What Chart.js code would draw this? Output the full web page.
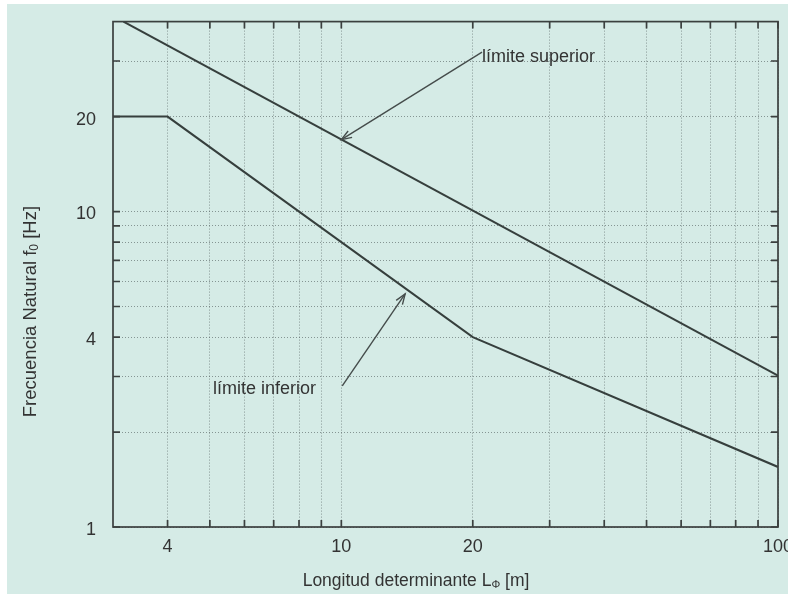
<!DOCTYPE html>
<html><head><meta charset="utf-8">
<script src="https://cdn.jsdelivr.net/npm/chart.js@4.4.0/dist/chart.umd.min.js"></script>
<style>
html,body{margin:0;padding:0;overflow:hidden;background:#fff;width:788px;height:594px;}
#wrap{position:absolute;left:7px;top:4px;width:800px;height:590px;background:#d5ebe6;}
canvas{display:block;}
</style></head><body>
<div id="wrap"><canvas id="c" width="800" height="590"></canvas></div>
<script>
// ---- data ----
const xTicks = [4, 5, 6, 7, 8, 9, 10, 20, 30, 40, 50, 60, 70, 80, 90, 100];
const xTickLabels = [4, 10, 20, 100];
const yTicks = [1, 2, 3, 4, 5, 6, 7, 8, 9, 10, 20, 30];
const yTickLabels = [1, 4, 10, 20];
const upperL = [3.17, 100];
const upperF = [40, 3.02];
const lowerL = [3, 4, 20, 100];
const lowerF = [20, 20, 4, 1.55];
// annotations (data coordinates)
const labelUpper = 'límite superior';
const labelUpperPos = [21.0, 30.8];
const arrowUpper = [[21, 32], [10, 16.9]];
const labelLower = 'límite inferior';
const labelLowerPos = [8.75, 2.74];
const arrowLower = [[10.05, 2.8], [14.0, 5.48]];
const xTitle = ['Longitud determinante L', 'Φ', ' [m]'];
const yTitle = ['Frecuencia Natural f', '0', ' [Hz]'];

const FONT = "'Liberation Sans', Arial, Helvetica, sans-serif";
const INK = '#363f3d';
const TXT = '#333333';

function drawParts(ctx, parts, cx, cy, size) {
  const sizes = [size, Math.round(size * 0.65), size];
  const dys = [0, 4, 0];
  let total = 0;
  const widths = parts.map((p, i) => { ctx.font = sizes[i] + 'px ' + FONT; const w = ctx.measureText(p).width; total += w; return w; });
  let x = cx - total / 2;
  ctx.textBaseline = 'middle';
  ctx.textAlign = 'left';
  parts.forEach((p, i) => { ctx.font = sizes[i] + 'px ' + FONT; ctx.fillText(p, x, cy + dys[i]); x += widths[i]; });
}

function arrow(ctx, x1, y1, x2, y2) {
  ctx.beginPath(); ctx.moveTo(x1, y1); ctx.lineTo(x2, y2); ctx.stroke();
  const ang = Math.atan2(y2 - y1, x2 - x1), L = 11, h = 0.35;
  ctx.beginPath();
  ctx.moveTo(x2 - L * Math.cos(ang - h), y2 - L * Math.sin(ang - h));
  ctx.lineTo(x2, y2);
  ctx.lineTo(x2 - L * Math.cos(ang + h), y2 - L * Math.sin(ang + h));
  ctx.stroke();
}

const framePlugin = {
  id: 'frame',
  afterDatasetsDraw(chart) {
    const { ctx, chartArea: a, scales: { x, y } } = chart;
    ctx.save();
    ctx.strokeStyle = '#3b403f'; ctx.lineWidth = 1.7;
    ctx.strokeRect(a.left, a.top, a.right - a.left, a.bottom - a.top);
    ctx.beginPath();
    const tl = 7;
    xTicks.forEach(v => { const px = x.getPixelForValue(v); ctx.moveTo(px, a.bottom); ctx.lineTo(px, a.bottom - tl); ctx.moveTo(px, a.top); ctx.lineTo(px, a.top + tl); });
    yTicks.forEach(v => { const py = y.getPixelForValue(v); ctx.moveTo(a.left, py); ctx.lineTo(a.left + tl, py); ctx.moveTo(a.right, py); ctx.lineTo(a.right - tl, py); });
    ctx.stroke();
    // annotations
    ctx.strokeStyle = '#454c4b'; ctx.lineWidth = 1.4;
    arrow(ctx, x.getPixelForValue(arrowUpper[0][0]), y.getPixelForValue(arrowUpper[0][1]), x.getPixelForValue(arrowUpper[1][0]), y.getPixelForValue(arrowUpper[1][1]));
    arrow(ctx, x.getPixelForValue(arrowLower[0][0]), y.getPixelForValue(arrowLower[0][1]), x.getPixelForValue(arrowLower[1][0]), y.getPixelForValue(arrowLower[1][1]));
    ctx.fillStyle = TXT; ctx.font = '18px ' + FONT; ctx.textBaseline = 'middle';
    ctx.textAlign = 'left';
    ctx.fillText(labelUpper, x.getPixelForValue(labelUpperPos[0]), y.getPixelForValue(labelUpperPos[1]));
    ctx.textAlign = 'right';
    ctx.fillText(labelLower, x.getPixelForValue(labelLowerPos[0]), y.getPixelForValue(labelLowerPos[1]));
    // axis titles
    ctx.fillStyle = TXT;
    drawParts(ctx, xTitle, a.left + 303, a.bottom + 54, 17.5);
    ctx.save();
    ctx.translate(a.left - 82, a.top + 290);
    ctx.rotate(-Math.PI / 2);
    drawParts(ctx, yTitle, 0, 0, 18.5);
    ctx.restore();
    ctx.restore();
  }
};

const gridOpts = { color: 'rgba(80,92,92,0.6)', lineWidth: 1, drawTicks: false };

new Chart(document.getElementById('c'), {
  type: 'line',
  data: {
    datasets: [
      { label: labelUpper, data: upperL.map((v, i) => ({ x: v, y: upperF[i] })), borderColor: INK, borderWidth: 2, pointRadius: 0, fill: false, tension: 0 },
      { label: labelLower, data: lowerL.map((v, i) => ({ x: v, y: lowerF[i] })), borderColor: INK, borderWidth: 2, pointRadius: 0, fill: false, tension: 0 }
    ]
  },
  options: {
    responsive: false, animation: false, devicePixelRatio: 1,
    layout: { padding: { left: 0, top: 8, right: 29, bottom: 0 } },
    plugins: { legend: { display: false }, tooltip: { enabled: false } },
    scales: {
      x: {
        type: 'logarithmic', min: 3, max: 100,
        afterBuildTicks: s => { s.ticks = xTicks.map(v => ({ value: v })); },
        afterFit: s => { s.height = 67; },
        ticks: {
          autoSkip: false, maxRotation: 0, minRotation: 0, padding: 9, color: TXT,
          font: c => ({ family: FONT, size: (c.tick && xTickLabels.includes(c.tick.value)) ? 18 : 1 }),
          callback: v => xTickLabels.includes(v) ? String(v) : ''
        },
        grid: gridOpts,
        border: { display: false, dash: [1, 2] }
      },
      y: {
        type: 'logarithmic', min: 1, max: 40,
        afterBuildTicks: s => { s.ticks = yTicks.map(v => ({ value: v })); },
        afterFit: s => { s.width = 106; },
        ticks: {
          autoSkip: false, padding: 17, labelOffset: 3, color: TXT,
          font: c => ({ family: FONT, size: (c.tick && yTickLabels.includes(c.tick.value)) ? 18 : 1 }),
          callback: v => yTickLabels.includes(v) ? String(v) : ''
        },
        grid: gridOpts,
        border: { display: false, dash: [1, 2] }
      }
    }
  },
  plugins: [framePlugin]
});
</script>
</body></html>
